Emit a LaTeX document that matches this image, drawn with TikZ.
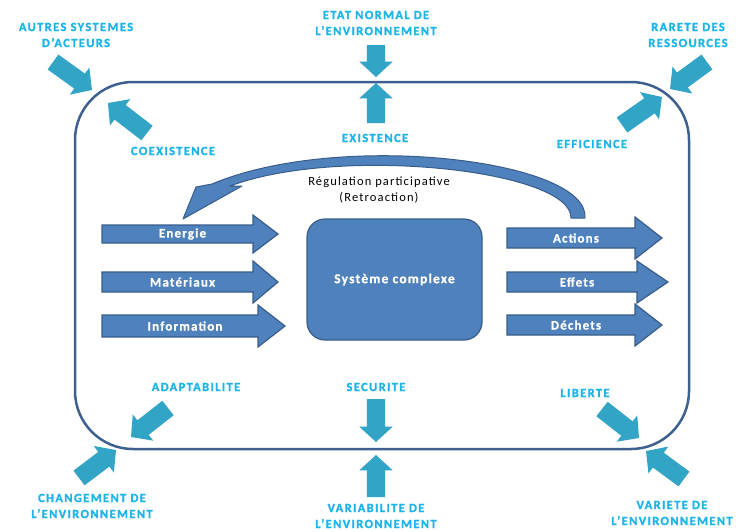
\documentclass[tikz,border=0pt]{standalone}
\usepackage{fontspec}
\setmainfont{Carlito}
\newfontfamily\labfont[LetterSpace=11, BoldFeatures={FakeBold=1.5}]{Carlito}
\newfontfamily\boxfont[LetterSpace=9, BoldFeatures={FakeBold=0.8}]{Carlito}
\usetikzlibrary{shapes.arrows,calc}
\definecolor{tealc}{RGB}{50,165,198}
\definecolor{labc}{RGB}{30,180,232}
\definecolor{bfill}{RGB}{79,129,189}
\definecolor{bdraw}{RGB}{56,93,138}
\definecolor{framec}{RGB}{62,96,145}
\newcommand\tarr[3]{\path let \p1=($(#3)-(#2)$) in node[tealarrow, anchor=tail, rotate={atan2(\y1,\x1)}, minimum height={veclen(\x1,\y1)}] (#1) at (#2) {};}
\newcommand\barr[8]{%
  \draw[bluearrow] (#2,#5-#6) -- (#3,#5-#6) -- (#3,#5-#7) -- (#4,#5) -- (#3,#5+#7) -- (#3,#5+#6) -- (#2,#5+#6) -- cycle;
  \node[arrowtext] (#1) at ({(#2+#3)/2+5},#5) {#8};}
\begin{document}
\begin{tikzpicture}[x=1pt,y=-1pt,
  tealarrow/.style={single arrow, draw=none, fill=tealc, inner xsep=0pt, inner ysep=9pt,
    single arrow head extend=7.5pt, single arrow tip angle=95, minimum width=0pt, outer sep=0pt},
  lab/.style={text=labc, align=center, inner sep=0pt, font=\labfont\bfseries\fontsize{12.5}{16}\selectfont},
  bluearrow/.style={fill=bfill, draw=bdraw, line width=1.2pt, line join=miter},
  arrowtext/.style={text=white, inner sep=0pt, font=\boxfont\bfseries\fontsize{13}{16}\selectfont},
  frame/.style={draw=framec, line width=2.5pt, rounded corners=58pt, minimum width=614pt, minimum height=367pt, inner sep=0pt},
  centralbox/.style={fill=bfill, draw=bdraw, line width=1.2pt, rounded corners=18pt, minimum width=175pt, minimum height=121pt, inner sep=0pt, text=white, font=\boxfont\bfseries\fontsize{13.5}{16}\selectfont},
  feedback/.style={fill=bfill, draw=bdraw, line width=1pt, line join=round},
  fbtext/.style={align=center, inner sep=0pt, font=\boxfont\fontsize{12.5}{16}\selectfont}
]
\useasboundingbox (0,0) rectangle (739,531);
\node[frame] (env) at (382,265.5) {};

% teal arrows
\tarr{a1}{53,62}{92,90}
\tarr{a2}{147,133}{108,103}
\tarr{a3}{376,45}{376,77}
\tarr{a4}{376,123}{376,83}
\tarr{a5}{707,62}{670,89}
\tarr{a6}{622,125}{662,97}
\tarr{a7}{168,408}{131,437}
\tarr{a8}{376,399}{376,442}
\tarr{a9}{602,409}{639,438}
\tarr{a10}{79,478}{116,450}
\tarr{a11}{376,497}{376,455}
\tarr{a12}{684,479}{646,451}

% labels
\node[lab] (l1) at (76,35) {AUTRES SYSTEMES\\D’ACTEURS};
\node[lab] (l2) at (173,151) {COEXISTENCE};
\node[lab] (l3) at (376,23) {ETAT NORMAL DE\\L’ENVIRONNEMENT};
\node[lab] (l4) at (375,138) {EXISTENCE};
\node[lab] (l5) at (688,35) {RARETE DES\\RESSOURCES};
\node[lab] (l6) at (592,144) {EFFICIENCE};
\node[lab] (l7) at (196,387) {ADAPTABILITE};
\node[lab] (l8) at (376,387) {SECURITE};
\node[lab] (l9) at (585,393) {LIBERTE};
\node[lab] (l10) at (92,506) {CHANGEMENT DE\\L’ENVIRONNEMENT};
\node[lab] (l11) at (376,516) {VARIABILITE DE\\L’ENVIRONNEMENT};
\node[lab] (l12) at (672,513) {VARIETE DE\\L’ENVIRONNEMENT};

% central system
\node[centralbox] (sys) at (394.5,279.5) {Système complexe};

% input / output arrows
\barr{energie}{102}{253}{278}{234}{9}{19}{Energie}
\barr{materiaux}{102}{253}{278}{282}{10}{21}{Matériaux}
\barr{information}{102}{258}{285}{326}{11}{21}{Information}
\barr{actions}{507}{635}{662}{238}{10}{21}{Actions}
\barr{effets}{507}{637}{668}{282}{10}{21}{Effets}
\barr{dechets}{507}{635}{662}{325}{10}{21}{Déchets}

% feedback arrow
\filldraw[feedback] (585,218) .. controls (590,160) and (340,130) .. (212,184) -- (196,187) -- (183,219) -- (242,186) -- (230,186) .. controls (340,145) and (572,170) .. (571,218) -- cycle;
\node[fbtext] (fb) at (379,190) {Régulation participative\\(Retroaction)};
\end{tikzpicture}
\end{document}
